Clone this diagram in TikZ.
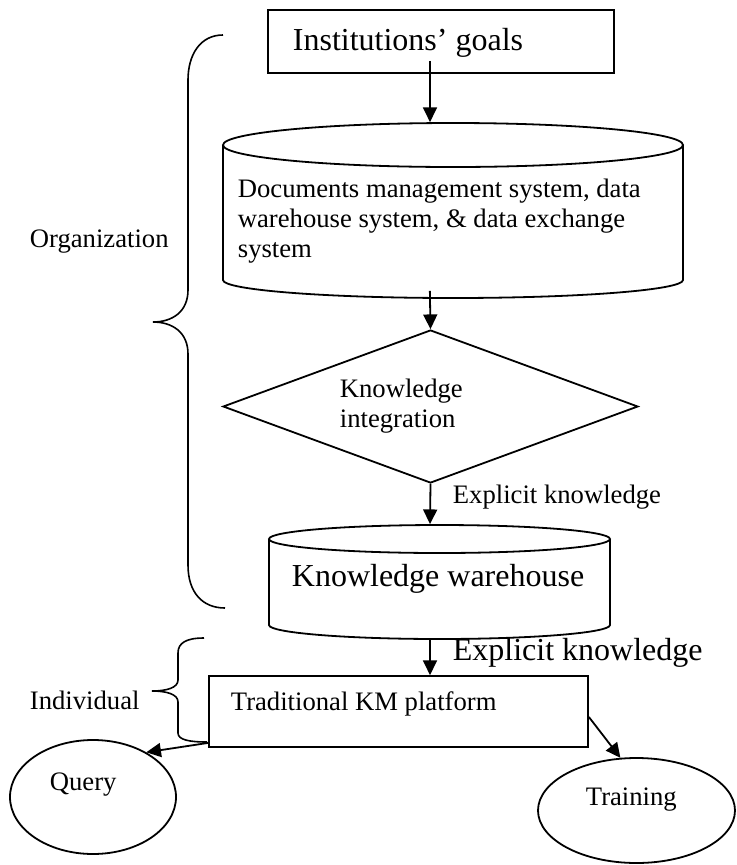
\documentclass[tikz,border=0pt]{standalone}
\usepackage{fontspec}
\setmainfont{Liberation Serif}
\usetikzlibrary{arrows.meta,shapes.geometric}
\begin{document}
\begin{tikzpicture}[x=0.75pt,y=-0.75pt,line width=1.35pt,
  arr/.style={-{Triangle[length=11pt,width=10.5pt]}},
  txt/.style={inner sep=0pt,anchor=base west,font=\fontsize{20}{22.5}\selectfont},
  bigtxt/.style={inner sep=0pt,anchor=base west,font=\fontsize{24}{28}\selectfont},
  frame/.style={draw,inner sep=0pt},
  area/.style={inner sep=0pt},
  oval/.style={draw,ellipse,inner sep=0pt},
  brace/.style={line width=1.2pt},
]
\useasboundingbox (0,0) rectangle (737,865);
\coordinate (sp) at (430,0);

% Institutions' goals
\node[frame,minimum width=259.5pt,minimum height=47.25pt] (goals) at (441,41.5) {};
\node[bigtxt] (goalstxt) at (292,50) {Institutions’ goals};

% cylinder 1
\node[area,minimum width=345pt,minimum height=131.25pt] (cyl1) at (453,210.5) {};
\draw (453,145) ellipse [x radius=172.5pt,y radius=16.5pt];
\draw (223,145) -- (223,280) arc [start angle=180,end angle=360,x radius=172.5pt,y radius=13.5pt] -- (683,145);
\node[txt] (cyl1txt) at (237,197) {\begin{tabular}[t]{@{}l@{}}Documents management system, data\\ warehouse system, \& data exchange\\ system\end{tabular}};

% diamond
\node[draw,diamond,minimum width=311.25pt,minimum height=114.75pt,inner sep=0pt] (ki) at (430.5,406.5) {};
\node[txt] (kitxt) at (339,397) {\begin{tabular}[t]{@{}l@{}}Knowledge\\ integration\end{tabular}};

% cylinder 2
\node[area,minimum width=255.75pt,minimum height=85.5pt] (cyl2) at (439.5,582) {};
\draw (439.5,539) ellipse [x radius=127.875pt,y radius=10.5pt];
\draw (269,539) -- (269,625) arc [start angle=180,end angle=360,x radius=127.875pt,y radius=10.5pt] -- (610,539);
\node[bigtxt] (kwtxt) at (291,586) {Knowledge warehouse};

% KM platform
\node[frame,minimum width=284.25pt,minimum height=53.25pt] (km) at (398.5,711.5) {};
\node[txt] (kmtxt) at (230,710) {Traditional KM platform};

% Query and Training
\node[oval,minimum width=124.5pt,minimum height=85.5pt] (query) at (93,797) {};
\node[txt] (qtxt) at (49,790) {Query};
\node[oval,minimum width=147.75pt,minimum height=78.75pt] (training) at (636.5,810.5) {};
\node[txt] (ttxt) at (585,805) {Training};

% labels
\node[txt] (ek1) at (452,503) {Explicit knowledge};
\node[bigtxt] (ek2) at (452,660) {Explicit knowledge};
\node[txt] (orgtxt) at (29,247) {Organization};
\node[txt] (indtxt) at (29,709) {Individual};

% connectors
\draw[arr,shorten <=-9.75pt] (goals.south -| sp) -- (cyl1.north -| sp);
\draw[arr,shorten <=-6pt] (cyl1.south -| sp) -- (ki.north);
\draw[arr] (ki.south) -- (cyl2.north -| sp);
\draw[arr,shorten <=-0.75pt] (cyl2.south -| sp) -- (km.north -| sp);
\draw[arr] ([yshift=3.75pt]km.south west) -- (query.40);
\draw[arr] ([yshift=-4.125pt]km.east) -- (training.107);

% braces
\draw[brace] (223,35) .. controls (200,35) and (188,55) .. (188,80) -- (188,290)
  .. controls (188,312) and (172,322) .. (153,322)
  .. controls (172,322) and (188,332) .. (188,354) -- (188,565)
  .. controls (188,592) and (202,608) .. (225,608);
\draw[brace] (204,638) .. controls (186,638) and (178,643) .. (178,653) -- (178,680)
  .. controls (178,688) and (166,691) .. (152,691)
  .. controls (166,691) and (178,694) .. (178,702) -- (178,733)
  .. controls (178,740) and (190,742) .. (207,742);
\end{tikzpicture}
\end{document}
